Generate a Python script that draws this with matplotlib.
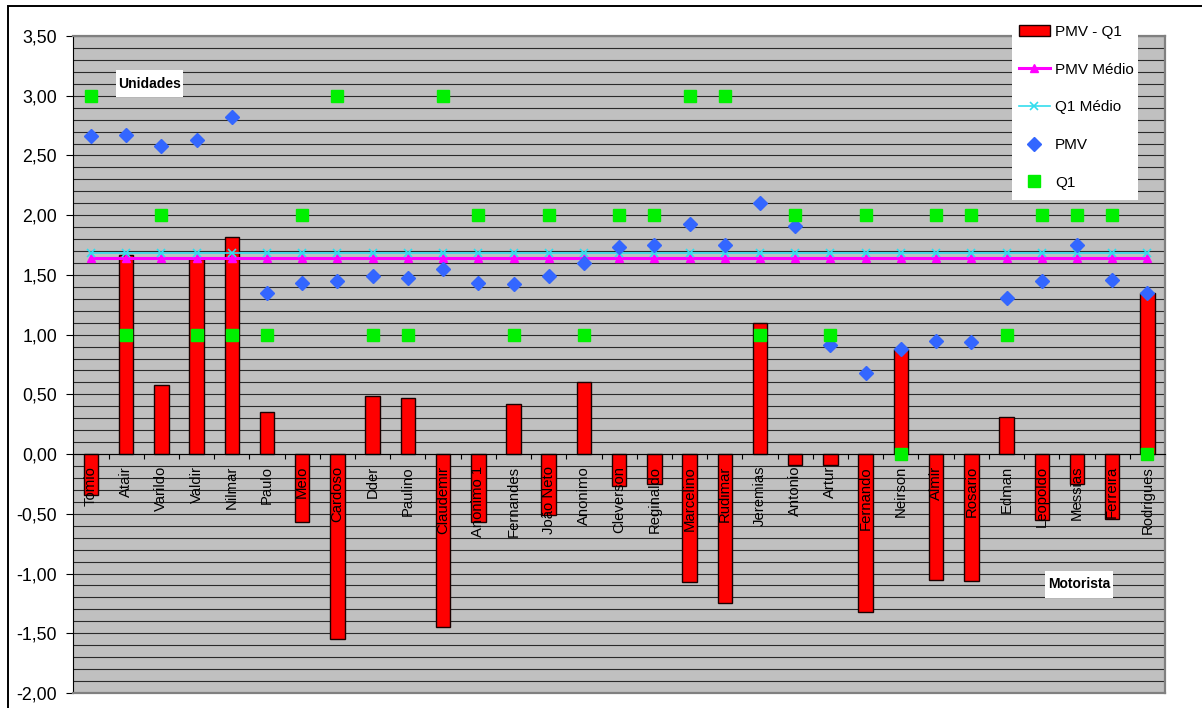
import numpy as np
import matplotlib
matplotlib.use('Agg')
import matplotlib.pyplot as plt
from matplotlib.lines import Line2D
from matplotlib.patches import Patch, Rectangle

plt.rcParams['font.family'] = ['Liberation Sans', 'DejaVu Sans']

# dados por motorista
motoristas = ["Tomio", "Atair", "Varildo", "Valdir", "Nilmar", "Paulo", "Melo",
              "Cardoso", "Dder", "Paulino", "Claudemir", "Anonimo 1", "Fernandes",
              "João Neto", "Anonimo", "Cleverson", "Reginaldo", "Marcelino",
              "Rudimar", "Jeremias", "Antonio", "Artur", "Fernando", "Neirson",
              "Almir", "Rosario", "Edman", "Leopoldo", "Messias", "Ferreira",
              "Rodrigues"]
pmv = [2.66, 2.67, 2.58, 2.63, 2.82, 1.35, 1.43, 1.45, 1.49, 1.47, 1.55,
       1.43, 1.42, 1.49, 1.60, 1.73, 1.75, 1.93, 1.75, 2.10, 1.91, 0.91,
       0.68, 0.88, 0.95, 0.94, 1.31, 1.45, 1.75, 1.46, 1.35]
q1 = [3, 1, 2, 1, 1, 1, 2, 3, 1, 1, 3, 2, 1, 2, 1, 2, 2, 3, 3, 1, 2, 1,
      2, 0, 2, 2, 1, 2, 2, 2, 0]
pmv_q1 = [-0.34, 1.67, 0.58, 1.63, 1.82, 0.35, -0.57, -1.55, 0.49, 0.47,
          -1.45, -0.57, 0.42, -0.51, 0.60, -0.27, -0.25, -1.07, -1.25, 1.10,
          -0.09, -0.09, -1.32, 0.88, -1.05, -1.06, 0.31, -0.55, -0.25, -0.54,
          1.35]
pmv_medio = 1.64
q1_medio = 1.68

W, H = 1202, 708
fig = plt.figure(figsize=(W / 100, H / 100), dpi=100)
ax = fig.add_axes([73.3 / W, 1 - 693 / H, (1165 - 73.3) / W, (693 - 36) / H])
ax.set_facecolor('#C0C0C0')

x = np.arange(len(motoristas))
ax.set_xlim(-0.5, len(motoristas) - 0.5)
ax.set_ylim(-2.0, 3.5)

# linhas de grade a cada 0,1
for v in np.arange(-20, 36) / 10:
    ax.axhline(v, color='#2a2a2a', lw=0.8, zorder=0.5)

ax.bar(x, pmv_q1, width=0.41, color='#FF0000', edgecolor='#1a0000',
       linewidth=1.0, zorder=2)
ax.plot(x, [pmv_medio] * len(x), color='#FF00FF', lw=2.2, marker='^',
        ms=6, zorder=3)
ax.plot(x, [q1_medio] * len(x), color='#33DDEE', lw=1.2, marker='x',
        ms=6, mew=1.2, zorder=3)
ax.plot(x, pmv, ls='none', marker='D', ms=6.8, color='#3366FF', zorder=4)
ax.plot(x, q1, ls='none', marker='s', ms=8.3, color='#00F000', zorder=4)

# eixo x na linha do zero
ax.spines['bottom'].set_position(('data', 0))
ax.spines['bottom'].set_color('black')
ax.spines['bottom'].set_zorder(3.5)
for s in ['top', 'right']:
    ax.spines[s].set_color('#808080')
    ax.spines[s].set_linewidth(1.6)
ax.spines['left'].set_color('black')
ax.axhline(-2.0, color='#808080', lw=1.6, zorder=3.5, clip_on=False)

ax.set_xticks(np.arange(len(motoristas) + 1) - 0.5)
ax.set_xticklabels([])
ax.tick_params(axis='x', direction='out', length=3.5, width=0.8)
for i, nome in enumerate(motoristas):
    ax.annotate(nome, (i, 0), xytext=(0, -8.5), textcoords='offset points',
                rotation=90, ha='center', va='top', fontsize=10.7,
                color='black', zorder=5)

yt = np.arange(-4, 8) * 0.5
ax.set_yticks(yt)
ax.set_yticklabels([f"{v:.2f}".replace('.', ',') for v in yt], fontsize=12.8)
ax.tick_params(axis='y', direction='out', length=4.8, width=0.8, pad=6.8)

# moldura externa
fig.add_artist(Rectangle((8 / W, -0.2), 1.2, 1 - 6 / H + 0.2,
                         transform=fig.transFigure, fill=False,
                         edgecolor='black', lw=1.4, zorder=10))

# títulos dos eixos
def caixa(x0, y0, x1, y1, texto):
    fig.add_artist(Rectangle((x0 / W, 1 - y1 / H), (x1 - x0) / W, (y1 - y0) / H,
                             transform=fig.transFigure, facecolor='white',
                             edgecolor='none', zorder=3))
    fig.text((x0 + x1) / 2 / W, 1 - (y0 + y1) / 2 / H, texto, fontsize=10,
             fontweight='bold', ha='center', va='center', zorder=4)

caixa(116, 70, 183, 97, "Unidades")
caixa(1045, 571, 1113, 598, "Motorista")

# legenda
fig.add_artist(Rectangle((1012 / W, 1 - 200 / H), 126 / W, 186 / H,
                         transform=fig.transFigure, facecolor='white',
                         edgecolor='none', zorder=3))
handles = [
    Patch(facecolor='#FF0000', edgecolor='#1a0000', lw=1.0),
    Line2D([], [], color='#FF00FF', lw=2.2, marker='^', ms=6),
    Line2D([], [], color='#33DDEE', lw=1.2, marker='x', ms=6, mew=1.2),
    Line2D([], [], ls='none', marker='D', ms=6.8, color='#3366FF'),
    Line2D([], [], ls='none', marker='s', ms=8.3, color='#00F000'),
]
labels = ["PMV - Q1", "PMV Médio", "Q1 Médio", "PMV", "Q1"]
leg = fig.legend(handles, labels, loc='upper left',
                 bbox_to_anchor=(1019 / W, 1 - 25 / H), frameon=False,
                 fontsize=11, borderpad=0, borderaxespad=0, handlelength=2.0,
                 handletextpad=0.35, labelspacing=1.55, numpoints=1)
leg.set_zorder(6)

fig.savefig('out.png', dpi=100)
